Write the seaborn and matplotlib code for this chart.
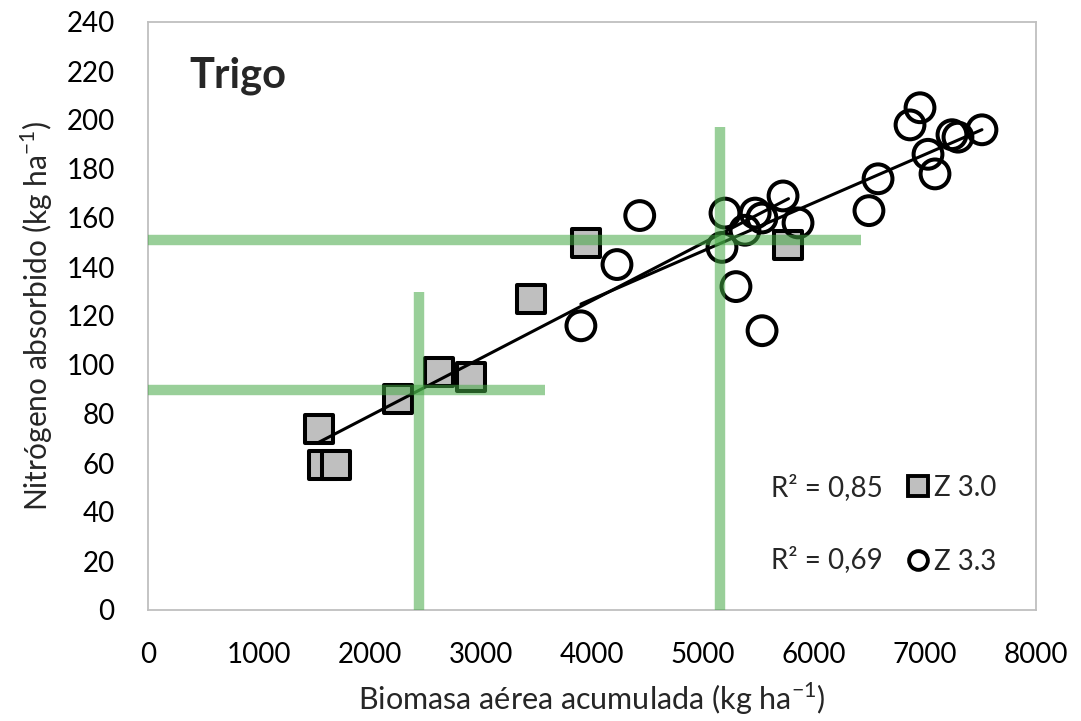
import numpy as np
import pandas as pd
import matplotlib
matplotlib.use("Agg")
import matplotlib.pyplot as plt
import seaborn as sns
from matplotlib.lines import Line2D

# ---- data ----
sq_x = [1540, 1580, 1690, 2250, 2620, 2910, 3450, 3950, 5770]
sq_y = [74, 59, 59, 86, 97, 95, 127, 150, 149]

ci_x = [3900, 4225, 4430, 5171, 5198, 5297, 5378, 5470, 5531, 5532, 5721, 5856,
        6495, 6577, 6865, 6955, 7027, 7090, 7243, 7297, 7513]
ci_y = [116, 141, 161, 148, 162, 132, 155, 162, 160, 114, 169, 158,
        163, 176, 198, 205, 186, 178, 194, 193, 196]

guide_h_y = [151, 90]
guide_h_xend = [6420, 3580]
guide_v_x = [5150, 2440]
guide_v_yend = [197, 130]

r2_labels = ["R² = 0,85", "R² = 0,69"]
series_labels = ["Z 3.0", "Z 3.3"]
x_ticks = list(range(0, 8001, 1000))
y_ticks = list(range(0, 241, 20))

sns.set_theme(style="white")
plt.rcParams['font.family'] = ['Lato', 'DejaVu Sans']

fig = plt.figure(figsize=(10.81, 7.21), dpi=100)
ax = fig.add_axes([148 / 1081, 1 - 610 / 721, (1036 - 148) / 1081, (610 - 22) / 721])

df_sq = pd.DataFrame({"x": sq_x, "y": sq_y})
df_ci = pd.DataFrame({"x": ci_x, "y": ci_y})

sns.scatterplot(data=df_sq, x="x", y="y", marker="s", s=420, color="#BFBFBF",
                edgecolor="black", linewidth=2.9, ax=ax, zorder=3)
sns.scatterplot(data=df_ci, x="x", y="y", marker="o", s=430, facecolors="none",
                edgecolor="black", linewidth=2.9, ax=ax, zorder=3)

sns.regplot(data=df_sq, x="x", y="y", scatter=False, ci=None, color="black",
            line_kws={"linewidth": 2.2, "zorder": 4}, ax=ax)
sns.regplot(data=df_ci, x="x", y="y", scatter=False, ci=None, color="black",
            line_kws={"linewidth": 2.2, "zorder": 4}, ax=ax)

gcol = (69 / 255, 168 / 255, 69 / 255)
for yv, xe in zip(guide_h_y, guide_h_xend):
    ax.plot([0, xe], [yv, yv], color=gcol, alpha=0.55, lw=7.5,
            solid_capstyle="butt", zorder=5)
for xv, ye in zip(guide_v_x, guide_v_yend):
    ax.plot([xv, xv], [0, ye], color=gcol, alpha=0.55, lw=7.5,
            solid_capstyle="butt", zorder=5)

ax.set_xlim(0, 8000)
ax.set_ylim(0, 240)
ax.set_xticks(x_ticks)
ax.set_yticks(y_ticks)
ax.tick_params(axis="both", direction="in", length=7, width=1.2, color="#BFBFBF",
               labelsize=20, labelcolor="black")
ax.tick_params(axis="x", pad=23)
ax.tick_params(axis="y", pad=24)
for sp in ax.spines.values():
    sp.set_color("#BFBFBF")
    sp.set_linewidth(1.3)
    sp.set_visible(True)

ax.set_xlabel("Biomasa aérea acumulada (kg ha$^{\\mathregular{-1}}$)", fontsize=22, labelpad=9)
ax.set_ylabel("Nitrógeno absorbido (kg ha$^{\\mathregular{-1}}$)", fontsize=21.5, labelpad=8)

ax.text(375, 218, "Trigo", fontsize=30, fontweight="bold", va="center", ha="left")

handles = [
    Line2D([], [], marker="s", linestyle="none", markersize=14, markerfacecolor="#BFBFBF",
           markeredgecolor="black", markeredgewidth=2.8),
    Line2D([], [], marker="o", linestyle="none", markersize=13.5, markerfacecolor="none",
           markeredgecolor="black", markeredgewidth=2.8),
]
leg = ax.legend(handles, series_labels, loc="upper left", bbox_to_anchor=(0.855, 0.230),
                frameon=False, fontsize=20, handlelength=0.8, handletextpad=0.15,
                labelspacing=1.72, borderpad=0, borderaxespad=0)
ax.text(0.827, 0.208, r2_labels[0], transform=ax.transAxes, fontsize=20,
        ha="right", va="center")
ax.text(0.827, 0.085, r2_labels[1], transform=ax.transAxes, fontsize=20,
        ha="right", va="center")

fig.savefig("out.png", dpi=100)
